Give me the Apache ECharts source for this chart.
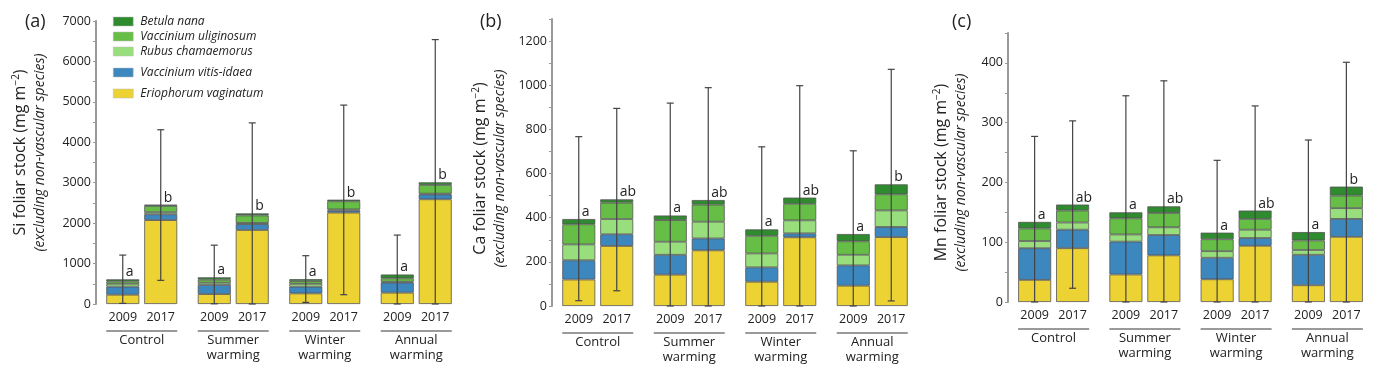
<!DOCTYPE html>
<html>
<head>
<meta charset="utf-8">
<script src="https://cdn.jsdelivr.net/npm/echarts@6/dist/echarts.min.js"></script>
<style>
  html, body { margin: 0; padding: 0; background: #fff; }
  #chart { width: 1377px; height: 380px; }
</style>
</head>
<body>
<div id="chart"></div>
<script>
// categories
const groups = ["Control", "Summer\nwarming", "Winter\nwarming", "Annual\nwarming"];
const years = ["2009", "2017"];
// stack order, bottom to top
const species = ["Eriophorum vaginatum", "Vaccinium vitis-idaea", "Rubus chamaemorus", "Vaccinium uliginosum", "Betula nana"];

// values per bar: C2009, C2017, S2009, S2017, W2009, W2017, A2009, A2017
// (a) Si
const siEriophorum = [230, 2075, 245, 1830, 262, 2260, 280, 2590];
const siVitis = [200, 145, 225, 145, 167, 50, 250, 120];
const siRubus = [70, 50, 55, 30, 70, 30, 20, 20];
const siUliginosum = [60, 155, 75, 185, 65, 200, 85, 215];
const siBetula = [50, 35, 60, 50, 50, 40, 95, 65];
const siErrLow = [15, 585, 5, 0, 40, 230, 0, 0];
const siErrHigh = [1210, 4310, 1455, 4480, 1195, 4920, 1705, 6540];
const siLetters = ["a", "b", "a", "b", "a", "b", "a", "b"];

// (b) Ca
const caEriophorum = [120, 272, 142, 252, 110, 311, 92, 312];
const caVitis = [87, 53, 90, 54, 65, 18, 92, 46];
const caRubus = [72, 69, 59, 76, 63, 59, 48, 75];
const caUliginosum = [91, 74, 98, 77, 80, 75, 61, 73];
const caBetula = [24, 15, 21, 21, 29, 28, 33, 45];
const caErrLow = [24, 69, 0, 0, 0, 0, 0, 23];
const caErrHigh = [767, 895, 919, 989, 721, 998, 703, 1072];
const caLetters = ["a", "ab", "a", "ab", "a", "ab", "a", "b"];

// (c) Mn
const mnEriophorum = [37, 90, 46, 78, 38, 94, 28, 109];
const mnVitis = [53, 31, 55, 34, 36, 13, 51, 30];
const mnRubus = [12, 12, 12, 13, 11, 14, 8, 18];
const mnUliginosum = [21, 20, 27, 24, 20, 18, 16, 21];
const mnBetula = [11, 10, 10, 11, 11, 14, 14, 15];
const mnErrLow = [0, 23, 0, 0, 0, 0, 0, 0];
const mnErrHigh = [277, 303, 345, 370, 237, 328, 271, 401];
const mnLetters = ["a", "ab", "a", "ab", "a", "ab", "a", "b"];

const colors = ["#ecd232", "#3c87be", "#98de7c", "#66be46", "#2e8b2e"];
const barWidth = 33;
const barPitch = 38; // barWidth + gap

const panels = [
  {
    tag: "(a)", el: "Si", stacks: [siEriophorum, siVitis, siRubus, siUliginosum, siBetula],
    low: siErrLow, high: siErrHigh, letters: siLetters, max: 7000, interval: 1000,
    grid: { left: 96, top: 21, width: 366, height: 283 }, titleLeft: 20, nameGap: 47, namePad: [0, 0, 0, 20],
  },
  {
    tag: "(b)", el: "Ca", stacks: [caEriophorum, caVitis, caRubus, caUliginosum, caBetula],
    low: caErrLow, high: caErrHigh, letters: caLetters, max: 1300, interval: 200,
    grid: { left: 552, top: 19, width: 366, height: 287 }, titleLeft: 475, nameGap: 43, namePad: [0, 12, 0, 0],
  },
  {
    tag: "(c)", el: "Mn", stacks: [mnEriophorum, mnVitis, mnRubus, mnUliginosum, mnBetula],
    low: mnErrLow, high: mnErrHigh, letters: mnLetters, max: 450, interval: 100,
    grid: { left: 1008, top: 33, width: 365, height: 269 }, titleLeft: 947, nameGap: 38, namePad: [0, 10, 0, 0],
  },
];

function errorBars(letters) {
  return function (params, api) {
    const g = api.value(0);
    const yr = api.value(4);
    const x = api.coord([g, 0])[0] + (yr ? 1 : -1) * barPitch / 2;
    const yLow = api.coord([g, api.value(1)])[1];
    const yHigh = api.coord([g, api.value(2)])[1];
    const yTop = api.coord([g, api.value(3)])[1];
    const cap = 3.5;
    const line = { stroke: "#444", lineWidth: 1.2 };
    return {
      type: "group",
      children: [
        { type: "line", shape: { x1: x, y1: yLow, x2: x, y2: yHigh }, style: line },
        { type: "line", shape: { x1: x - cap, y1: yHigh, x2: x + cap, y2: yHigh }, style: line },
        { type: "line", shape: { x1: x - cap, y1: yLow, x2: x + cap, y2: yLow }, style: line },
        {
          type: "text", x: x + 3, y: yTop,
          style: { text: letters[params.dataIndex], fill: "#222", font: "14px 'Open Sans'", textAlign: "left", textVerticalAlign: "bottom" },
        },
      ],
    };
  };
}

const option = {
  animation: false,
  textStyle: { fontFamily: "Open Sans" },
  title: [],
  legend: [
    {
      data: ["Betula nana", "Vaccinium uliginosum", "Rubus chamaemorus"],
      left: 113, top: 15, padding: 0, orient: "vertical", itemGap: 2,
      itemWidth: 20, itemHeight: 9, icon: "rect", selectedMode: false,
      itemStyle: { borderColor: "#bbb", borderWidth: 0.5 },
      textStyle: { fontSize: 12, fontStyle: "italic", color: "#222", lineHeight: 13, padding: [0, 0, 0, 2] },
    },
    {
      data: ["Vaccinium vitis-idaea", "Eriophorum vaginatum"],
      left: 113, top: 66, padding: 0, orient: "vertical", itemGap: 8,
      itemWidth: 20, itemHeight: 9, icon: "rect", selectedMode: false,
      itemStyle: { borderColor: "#bbb", borderWidth: 0.5 },
      textStyle: { fontSize: 12, fontStyle: "italic", color: "#222", lineHeight: 13, padding: [0, 0, 0, 2] },
    },
  ],
  grid: [],
  xAxis: [],
  yAxis: [],
  series: [],
};

panels.forEach((p, pi) => {
  option.title.push({
    text: p.tag, left: p.titleLeft, top: 8,
    textStyle: { fontSize: 18, fontWeight: "normal", color: "#222", fontFamily: "Open Sans" },
  });
  option.grid.push(p.grid);
  option.xAxis.push({
    type: "category", gridIndex: pi, data: groups,
    axisLine: { show: false }, axisTick: { show: false },
    axisLabel: {
      interval: 0, margin: 25, color: "#222",
      formatter: (v) => "{line| }\n" + v.split("\n").map((s) => "{t|" + s + "}").join("\n"),
      rich: {
        line: { width: 71, height: 2, lineHeight: 4, backgroundColor: "#9a9a9a", fontSize: 1 },
        t: { fontSize: 13, lineHeight: 15, color: "#222" },
      },
    },
  });
  option.yAxis.push({
    type: "value", gridIndex: pi, min: 0, max: p.max, interval: p.interval,
    name: "{n|" + p.el + " foliar stock (mg m}{s|−2}{n|)}\n{i|(excluding non-vascular species)}",
    nameLocation: "middle", nameRotate: 90, nameGap: p.nameGap,
    nameTextStyle: {
      padding: p.namePad,
      rich: {
        n: { fontSize: 16, lineHeight: 21, color: "#222" },
        s: { fontSize: 10, lineHeight: 21, padding: [0, 0, 9, 0], color: "#222" },
        i: { fontSize: 14, lineHeight: 18, fontStyle: "italic", color: "#222" },
      },
    },
    axisLine: { show: true, lineStyle: { color: "#999", width: 2 } },
    axisTick: { show: true, length: 3, lineStyle: { color: "#999" } },
    minorTick: { show: true, splitNumber: 2, length: 3, lineStyle: { color: "#999" } },
    splitLine: { show: false },
    axisLabel: {
      fontSize: 12.5, color: "#222", margin: 5,
      showMaxLabel: p.max % p.interval === 0,
      formatter: (v) => String(v),
    },
  });

  years.forEach((yr, yi) => {
    p.stacks.forEach((vals, si) => {
      option.series.push({
        type: "bar",
        name: species[si],
        xAxisIndex: pi, yAxisIndex: pi,
        stack: "p" + pi + "y" + yi,
        barWidth: barWidth, barGap: "15%",
        data: groups.map((g, gi) => vals[gi * 2 + yi]),
        itemStyle: { color: colors[si], borderColor: "#555", borderWidth: 0.8 },
        emphasis: { disabled: true },
        label: si === 0
          ? { show: true, position: "bottom", distance: 7, formatter: yr, fontSize: 12.5, color: "#222" }
          : { show: false },
        z: 2,
      });
    });
  });

  const errData = p.low.map((lo, i) => {
    const total = p.stacks.reduce((acc, s) => acc + s[i], 0);
    return [Math.floor(i / 2), lo, p.high[i], total, i % 2];
  });
  option.series.push({
    type: "custom",
    xAxisIndex: pi, yAxisIndex: pi,
    renderItem: errorBars(p.letters),
    encode: { x: 0, y: [1, 2, 3] },
    data: errData,
    z: 5,
    silent: true,
  });
});

const chart = echarts.init(document.getElementById("chart"));
chart.setOption(option);
</script>
</body>
</html>
